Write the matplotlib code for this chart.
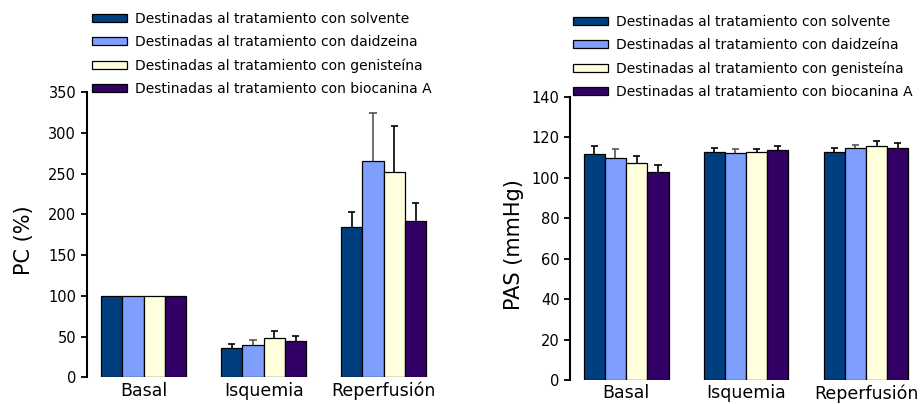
import matplotlib
matplotlib.use('Agg')
import matplotlib.pyplot as plt
import numpy as np

plt.rcParams['font.family'] = ['DejaVu Sans']

# datos
grupos = ['Basal', 'Isquemia', 'Reperfusión']
series_pc = ['Destinadas al tratamiento con solvente',
             'Destinadas al tratamiento con daidzeina',
             'Destinadas al tratamiento con genisteína',
             'Destinadas al tratamiento con biocanina A']
series_pas = ['Destinadas al tratamiento con solvente',
              'Destinadas al tratamiento con daidzeína',
              'Destinadas al tratamiento con genisteína',
              'Destinadas al tratamiento con biocanina A']

pc_solvente = [100, 36, 185]
pc_daidzeina = [100, 39.5, 265]
pc_genisteina = [100, 48.5, 252]
pc_biocanina = [100, 45, 192]
pc_err_solvente = [0, 5, 18]
pc_err_daidzeina = [0, 6.5, 59]
pc_err_genisteina = [0, 8, 56]
pc_err_biocanina = [0, 6, 22]

pas_solvente = [112, 112.7, 112.7]
pas_daidzeina = [109.7, 112.5, 114.7]
pas_genisteina = [107.5, 112.8, 115.8]
pas_biocanina = [102.8, 113.7, 114.7]
pas_err_solvente = [3.8, 2.3, 2.3]
pas_err_daidzeina = [4.8, 1.7, 1.8]
pas_err_genisteina = [3.5, 1.5, 2.2]
pas_err_biocanina = [3.5, 2.3, 2.5]

colores = ['#003F7F', '#7F9FFF', '#FFFFDD', '#330066']
col_err = ['black', '#555555', 'black', 'black']


def panel(ax, valores, errores, etiquetas, ylabel, ylim, yticks, xlim):
    x = np.arange(len(grupos))
    w = 0.177
    for i in range(4):
        pos = x + (i - 1.5) * w
        ax.bar(pos, valores[i], w, color=colores[i], edgecolor='black',
               linewidth=0.9, label=etiquetas[i], zorder=2)
        # solo la mitad superior del error
        v = np.array(valores[i], dtype=float)
        e = np.array(errores[i], dtype=float)
        m = e > 0
        ax.vlines(pos[m], v[m], v[m] + e[m], color=col_err[i], lw=1.2, zorder=1)
        ax.hlines(v[m] + e[m], pos[m] - 0.03, pos[m] + 0.03, color=col_err[i],
                  lw=1.2, zorder=1)
    ax.set_xlim(*xlim)
    ax.set_ylim(*ylim)
    ax.set_yticks(yticks)
    ax.set_xticks(x)
    ax.set_xticklabels(grupos, fontsize=12.5)
    ax.tick_params(axis='x', length=0, pad=3)
    ax.tick_params(axis='y', labelsize=10.5, length=4, width=1.3, direction='out')
    for s in ['top', 'right', 'bottom']:
        ax.spines[s].set_visible(False)
    ax.spines['left'].set_linewidth(1.5)
    ax.set_ylabel(ylabel, fontsize=15)


fig = plt.figure(figsize=(9.23, 4.04), dpi=100)

ax1 = fig.add_axes([0.0939, 0.0656, 0.3836, 0.7067])
panel(ax1,
      [pc_solvente, pc_daidzeina, pc_genisteina, pc_biocanina],
      [pc_err_solvente, pc_err_daidzeina, pc_err_genisteina, pc_err_biocanina],
      series_pc, 'PC (%)', (0, 350), range(0, 351, 50), (-0.475, 2.475))
ax1.yaxis.set_label_coords(-0.15, 0.48)

ax2 = fig.add_axes([0.6176, 0.0594, 0.3813, 0.7005])
panel(ax2,
      [pas_solvente, pas_daidzeina, pas_genisteina, pas_biocanina],
      [pas_err_solvente, pas_err_daidzeina, pas_err_genisteina, pas_err_biocanina],
      series_pas, 'PAS (mmHg)', (0, 140), range(0, 141, 20), (-0.467, 2.467))
ax2.yaxis.set_label_coords(-0.13, 0.48)

for ax, xa, ya in [(ax1, 92 / 923, 1 - 12 / 404), (ax2, 573 / 923, 1 - 15 / 404)]:
    h, l = ax.get_legend_handles_labels()
    fig.legend(h[:4], l[:4], loc='upper left', bbox_to_anchor=(xa, ya),
               frameon=False, fontsize=10, handlelength=2.5, handleheight=0.45,
               handletextpad=0.6, labelspacing=0.66, borderpad=0, borderaxespad=0)

fig.savefig('out.png', dpi=100)
